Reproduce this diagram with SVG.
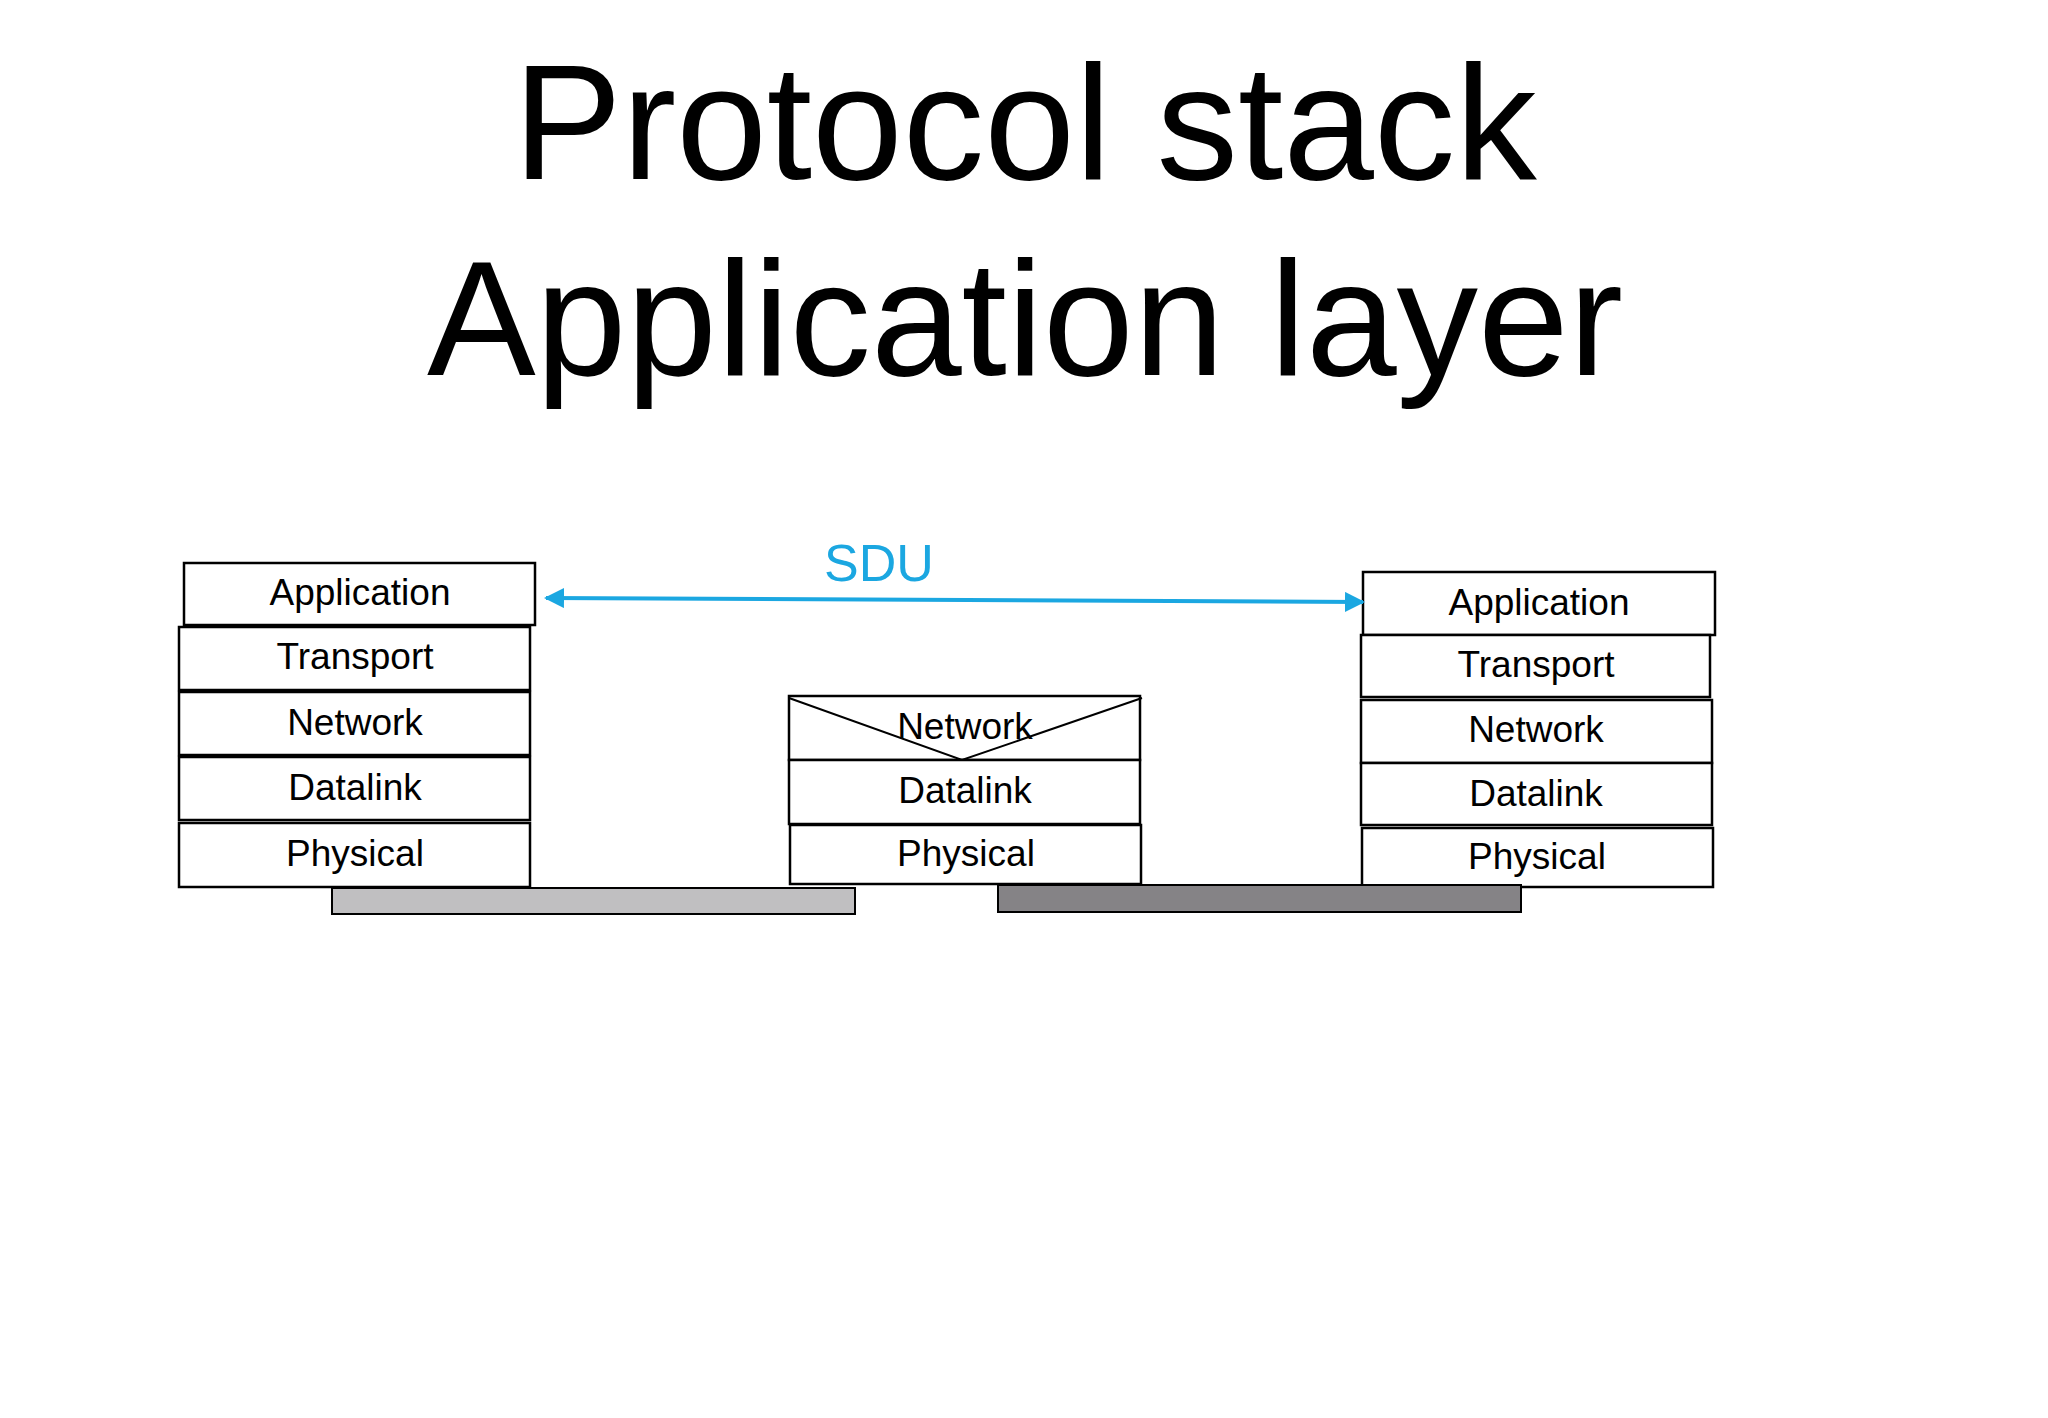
<svg xmlns="http://www.w3.org/2000/svg" width="2048" height="1418" viewBox="0 0 2048 1418">
<style>
.t{font-family:"Liberation Sans",Arial,sans-serif;text-anchor:middle}
.l{font-size:37px;fill:#000}
.b{fill:#fff;stroke:#000;stroke-width:2.5}
</style>
<defs><marker id="a" viewBox="0 0 10 10" refX="9" refY="5" markerWidth="5" markerHeight="5" orient="auto-start-reverse"><path d="M0,0L10,5L0,10z" fill="#1ba7e1"/></marker></defs>
<rect width="2048" height="1418" fill="#fff"/>
<text class="t" x="1025" y="179" font-size="163">Protocol stack</text>
<text class="t" x="1025" y="375" font-size="163">Application layer</text>
<g id="left">
<rect class="b" x="184" y="563" width="351" height="62"/><text class="t l" x="360" y="605">Application</text>
<rect class="b" x="179" y="627" width="351" height="63"/><text class="t l" x="355" y="669">Transport</text>
<rect class="b" x="179" y="692" width="351" height="63"/><text class="t l" x="355" y="735">Network</text>
<rect class="b" x="179" y="757" width="351" height="63"/><text class="t l" x="355" y="800">Datalink</text>
<rect class="b" x="179" y="823" width="351" height="64"/><text class="t l" x="355" y="866">Physical</text>
</g>
<g id="middle">
<rect class="b" x="789" y="696" width="351" height="64"/><text class="t l" x="965" y="739">Network</text>
<path d="M789,698L962,760L1142,698" fill="none" stroke="#000" stroke-width="2"/>
<rect class="b" x="789" y="760" width="351" height="64"/><text class="t l" x="965" y="803">Datalink</text>
<rect class="b" x="790" y="825" width="351" height="59"/><text class="t l" x="966" y="866">Physical</text>
</g>
<g id="right">
<rect class="b" x="1363" y="572" width="352" height="63"/><text class="t l" x="1539" y="615">Application</text>
<rect class="b" x="1361" y="635" width="349" height="62"/><text class="t l" x="1536" y="677">Transport</text>
<rect class="b" x="1361" y="700" width="351" height="63"/><text class="t l" x="1536" y="742">Network</text>
<rect class="b" x="1361" y="763" width="351" height="62"/><text class="t l" x="1536" y="806">Datalink</text>
<rect class="b" x="1362" y="828" width="351" height="59"/><text class="t l" x="1537" y="869">Physical</text>
</g>
<g id="links">
<rect x="332" y="888" width="523" height="26" fill="#c0bfc1" stroke="#000" stroke-width="2"/>
<rect x="998" y="885" width="523" height="27" fill="#858386" stroke="#000" stroke-width="2"/>
</g>
<g id="connectors">
<line x1="546" y1="598" x2="1363" y2="602" stroke="#1ba7e1" stroke-width="4" marker-start="url(#a)" marker-end="url(#a)"/>
<text class="t" x="879" y="581" font-size="52" fill="#1ba7e1">SDU</text>
</g>
</svg>
